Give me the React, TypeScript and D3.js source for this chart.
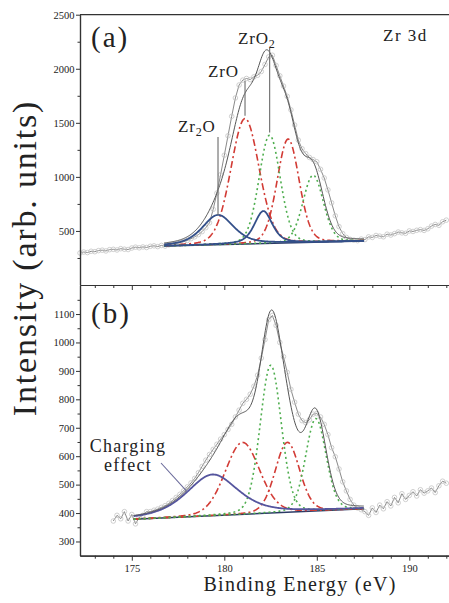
import React, { useEffect, useRef } from "react";
import * as d3 from "d3";

const W = 449;
const H = 603;
const FONT = "Liberation Serif, Times New Roman, Times, serif";

// panel (a): raw counts every 0.2 eV starting at 172.2 eV
const rawAStart = 172.2;
const rawA = [
  296, 305, 300, 312, 308, 318, 322, 315, 327, 330,
  324, 336, 331, 328, 342, 350, 344, 352, 347, 358,
  362, 355, 366, 360, 372, 378, 384, 392, 401, 412,
  428, 446, 466, 494, 530, 575, 700, 850, 1020, 1200,
  1380, 1560, 1730, 1850, 1895, 1910, 1900, 1925, 1940, 1975,
  2040, 2110, 2125, 2030, 1935, 1840, 1745, 1620, 1480, 1340,
  1260, 1215, 1180, 1160, 1140, 1070, 990, 880, 760, 640,
  540, 475, 440, 422, 415, 410, 425, 420, 445, 440,
  458, 452, 446, 470, 462, 475, 490, 482, 478, 500,
  495, 506, 512, 505, 520, 545, 560, 552, 585, 600,
];

// panel (b): raw counts every 0.2 eV starting at 174.0 eV
const rawBStart = 174.0;
const rawB = [
  372, 392, 380, 405, 372, 395, 362, 385, 392, 405,
  405, 410, 414, 420, 426, 434, 444, 455, 466, 478,
  492, 506, 522, 542, 564, 586, 606, 624, 642, 660,
  676, 694, 712, 738, 762, 786, 800, 818, 846, 885,
  945, 1010, 1080, 1095, 1060, 1000, 950, 895, 835, 790,
  748, 725, 718, 728, 748, 750, 738, 712, 676, 630,
  598, 555, 510, 478, 448, 428, 418, 412, 405, 392,
  418, 402, 428, 415, 440, 425, 455, 436, 468, 448,
  462, 475, 460, 482, 470, 478, 488, 472, 496, 512,
  505,
];
const step = 0.2;

// linear backgrounds under the fits: energies and counts at both ends
const aBgE = [176.75, 187.56];
const aBgI = [361, 407];
const bBgE = [175.1, 187.56];
const bBgI = [378, 415];

// fitted components: centre (eV), height above background, FWHM (eV)
const aBlueC = [179.66, 182.11];
const aBlueH = [275, 300];
const aBlueW = [2.0, 1.15];
const aRedC = [181.12, 183.45];
const aRedH = [1160, 960];
const aRedW = [1.8, 1.4];
const aGreenC = [182.45, 184.8];
const aGreenH = [1000, 620];
const aGreenW = [1.35, 1.3];

const bBlueC = [179.36];
const bBlueH = [145];
const bBlueW = [3.3];
const bRedC = [180.98, 183.41];
const bRedH = [253, 246];
const bRedW = [2.2, 1.55];
const bGreenC = [182.51, 184.95];
const bGreenH = [520, 325];
const bGreenW = [1.35, 1.3];

const xTicks = [175, 180, 185, 190];
const aYTicks = [500, 1000, 1500, 2000, 2500];
const bYTicks = [300, 400, 500, 600, 700, 800, 900, 1000, 1100];

const RED = "#d23b35";
const GREEN = "#4fae4f";
const BLUE_A = "#34508a";
const BLUE_B = "#55559e";

// pseudo-Voigt line shape
const pv = (e, c, h, w, eta) => {
  const d = ((e - c) * (e - c)) / (w * w);
  return h * ((1 - eta) * Math.exp(-4 * Math.LN2 * d) + eta / (1 + 4 * d));
};

export default function App() {
  const ref = useRef<SVGSVGElement>(null);

  useEffect(() => {
    const svg = d3.select(ref.current);
    svg.selectAll("*").remove();

    const L = 80;
    const x = d3.scaleLinear().domain([172.2, 192.2]).range([L, 450]);
    const yA = d3.scaleLinear().domain([0, 2500]).range([285, 14.7]);
    const yB = d3.scaleLinear().domain([250, 1200]).range([555.7, 285.6]);

    const styleAxis = (g) => {
      g.attr("font-family", FONT).attr("font-size", 10.5);
      g.selectAll(".domain").attr("stroke", "#333").attr("stroke-width", 1.2);
      g.selectAll(".tick line").attr("stroke", "#333");
      g.selectAll(".tick text").attr("fill", "#222");
    };

    const drawPanel = (y, raw, rawStart, bgE, bgI, families) => {
      const g = svg.append("g");
      const pts = raw.map((v, i) => [rawStart + i * step, v]);
      const line = d3
        .line()
        .x((d) => x(d[0]))
        .y((d) => y(d[1]));

      g.append("path")
        .attr("d", line(pts))
        .attr("fill", "none")
        .attr("stroke", "#8a8a8a")
        .attr("stroke-width", 1);
      g.selectAll("circle")
        .data(pts)
        .join("circle")
        .attr("cx", (d) => x(d[0]))
        .attr("cy", (d) => y(d[1]))
        .attr("r", 2.3)
        .attr("fill", "none")
        .attr("stroke", "#c4c4c4")
        .attr("stroke-width", 0.8);

      const bg = d3.scaleLinear().domain(bgE).range(bgI);
      const es = d3.range(bgE[0], bgE[1] + 1e-6, 0.04);

      g.append("path")
        .attr("d", line(bgE.map((e) => [e, bg(e)])))
        .attr("stroke", "#2b3a66")
        .attr("stroke-width", 1.6)
        .attr("fill", "none");

      const peaks = [];
      families.forEach((f) => {
        f.c.forEach((c, i) => {
          const p = (e) => pv(e, c, f.h[i], f.w[i], f.eta);
          peaks.push(p);
          g.append("path")
            .attr("d", line(es.map((e) => [e, bg(e) + p(e)])))
            .attr("fill", "none")
            .attr("stroke", f.color)
            .attr("stroke-width", f.sw)
            .attr("stroke-dasharray", f.dash);
        });
      });

      g.append("path")
        .attr(
          "d",
          line(es.map((e) => [e, bg(e) + d3.sum(peaks, (p) => p(e))]))
        )
        .attr("fill", "none")
        .attr("stroke", "#555")
        .attr("stroke-width", 1);

      return { bg, peaks };
    };

    const fam = (c, h, w, color, dash, eta, sw) => ({ c, h, w, color, dash, eta, sw });

    const pa = drawPanel(yA, rawA, rawAStart, aBgE, aBgI, [
      fam(aRedC, aRedH, aRedW, RED, "7,3,2,3", 0.15, 1.6),
      fam(aGreenC, aGreenH, aGreenW, GREEN, "2,3", 0.15, 1.6),
      fam(aBlueC, aBlueH, aBlueW, BLUE_A, null, 0.5, 1.8),
    ]);
    const pb = drawPanel(yB, rawB, rawBStart, bBgE, bBgI, [
      fam(bRedC, bRedH, bRedW, RED, "7,3,2,3", 0.15, 1.6),
      fam(bGreenC, bGreenH, bGreenW, GREEN, "2,3", 0.15, 1.6),
      fam(bBlueC, bBlueH, bBlueW, BLUE_B, null, 0.55, 1.8),
    ]);

    // axes
    const ax = svg.append("g");
    const fmt = d3.format("d");
    ax.append("g")
      .attr("transform", `translate(${L},0)`)
      .call(d3.axisLeft(yA).tickValues(aYTicks).tickFormat(fmt).tickSize(4).tickPadding(1.5).tickSizeOuter(0))
      .call(styleAxis);
    ax.append("g")
      .attr("transform", `translate(${L},0)`)
      .call(
        d3.axisLeft(yA).tickValues(d3.range(250, 2500, 500)).tickSize(2.5).tickFormat(() => "").tickSizeOuter(0)
      )
      .call(styleAxis);
    ax.append("g")
      .attr("transform", `translate(${L},0)`)
      .call(d3.axisLeft(yB).tickValues(bYTicks).tickFormat(fmt).tickSize(4).tickPadding(1.5).tickSizeOuter(0))
      .call(styleAxis);
    ax.append("g")
      .attr("transform", `translate(${L},0)`)
      .call(
        d3.axisLeft(yB).tickValues(d3.range(350, 1200, 100)).tickSize(2.5).tickFormat(() => "").tickSizeOuter(0)
      )
      .call(styleAxis);

    const minorX = d3.range(173, 193, 1).filter((v) => !xTicks.includes(v));
    [yA(0), yB(250)].forEach((yy, k) => {
      ax.append("g")
        .attr("transform", `translate(0,${yy})`)
        .call(
          d3
            .axisBottom(x)
            .tickValues(xTicks)
            .tickSize(5)
            .tickPadding(4)
            .tickSizeOuter(0)
            .tickFormat(k === 0 ? () => "" : fmt)
        )
        .call(styleAxis);
      ax.append("g")
        .attr("transform", `translate(0,${yy})`)
        .call(d3.axisBottom(x).tickValues(minorX).tickSize(3).tickFormat(() => "").tickSizeOuter(0))
        .call(styleAxis);
    });

    // top frame line
    ax.append("line")
      .attr("x1", L)
      .attr("x2", W)
      .attr("y1", yA(2500))
      .attr("y2", yA(2500))
      .attr("stroke", "#333")
      .attr("stroke-width", 1.2);

    // labels
    const txt = (t, px, py, size, extra = {}) => {
      const el = svg
        .append("text")
        .attr("x", px)
        .attr("y", py)
        .attr("font-family", FONT)
        .attr("font-size", size)
        .attr("fill", "#222")
        .text(t);
      Object.entries(extra).forEach(([k, v]) => el.attr(k, v));
      return el;
    };

    txt("(a)", 91, 47, 29, { "letter-spacing": 2 });
    txt("(b)", 91, 323, 29, { "letter-spacing": 2 });
    txt("Zr 3d", 383, 41, 17, { "letter-spacing": 1.5 });

    txt("Binding Energy (eV)", 300, 591, 20, { "text-anchor": "middle", "letter-spacing": 1.3 });
    txt("Intensity (arb. units)", 0, 0, 34, {
      transform: "translate(36,258) rotate(-90)",
      "text-anchor": "middle",
      "letter-spacing": 1.8,
    });

    // peak annotations in panel (a)
    const sub = (px, py, before, s, after) => {
      const el = txt("", px, py, 17, { "letter-spacing": 0.8 });
      el.append("tspan").text(before);
      el.append("tspan").attr("dy", 4).attr("font-size", 12).text(s);
      if (after) el.append("tspan").attr("dy", -4).text(after);
    };
    sub(238, 44, "ZrO", "2", "");
    txt("ZrO", 208, 77, 17, { "letter-spacing": 0.8 });
    sub(178, 132, "Zr", "2", "O");

    const guide = (e, y1, yv) =>
      svg
        .append("line")
        .attr("x1", x(e))
        .attr("x2", x(e))
        .attr("y1", y1)
        .attr("y2", yA(yv))
        .attr("stroke", "#777")
        .attr("stroke-width", 1.2);
    const aTop = (e, k) => pa.bg(e) + pa.peaks[k](e);
    guide(aGreenC[0], 48, aTop(aGreenC[0], 2) + 25);
    guide(aRedC[0], 81, aTop(aRedC[0], 0) + 25);
    guide(aBlueC[0], 137, aTop(aBlueC[0], 4));

    // charging effect note in panel (b)
    txt("Charging", 128, 452, 18, { "text-anchor": "middle", "letter-spacing": 1.2 });
    txt("effect", 128, 471, 18, { "text-anchor": "middle", "letter-spacing": 1.2 });
    const eArrow = 178.0;
    svg
      .append("line")
      .attr("x1", 161)
      .attr("y1", 463)
      .attr("x2", x(eArrow))
      .attr("y2", yB(pb.bg(eArrow) + pb.peaks[4](eArrow)))
      .attr("stroke", "#6a6a9a")
      .attr("stroke-width", 1.1);
  }, []);

  return (
    <svg
      ref={ref}
      width={W}
      height={H}
      style={{ position: "absolute", left: 0, top: 0, background: "#fff" }}
    />
  );
}
